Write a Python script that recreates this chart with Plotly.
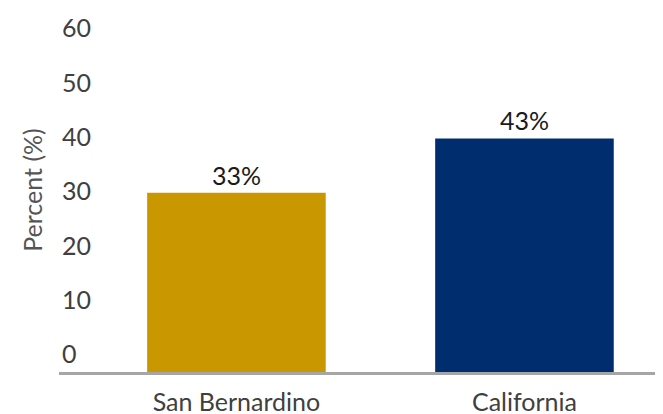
import plotly.graph_objects as go

categories = ["San Bernardino", "California"]
values = [33, 43]
labels = ["33%", "43%"]
colors = ["#C99700", "#002D6E"]
y_ticks = [0, 10, 20, 30, 40, 50, 60]

FONT = "Lato"
FS = 25

# The page body adds an 8px offset, so the figure is sized 8px smaller.
fig = go.Figure(
    go.Bar(
        x=categories,
        y=values,
        text=labels,
        textposition="outside",
        textfont=dict(family=FONT, size=FS, color="#1a1a1a"),
        marker=dict(color=colors, line=dict(width=0)),
        cliponaxis=False,
        hoverinfo="skip",
    )
)

fig.update_layout(
    width=655,
    height=406,
    margin=dict(l=51, r=0, t=0, b=42, autoexpand=False),
    paper_bgcolor="white",
    plot_bgcolor="white",
    bargap=0.38,
    showlegend=False,
    font=dict(family=FONT, size=FS, color="#404040"),
)

fig.update_xaxes(
    range=[-0.616, 1.481],
    showline=True,
    linecolor="#a6a6a6",
    linewidth=2.5,
    showgrid=False,
    ticks="",
    automargin=False,
    ticklabelstandoff=6,
    tickfont=dict(family=FONT, size=FS, color="#404040"),
)

fig.update_yaxes(
    range=[0, 67],
    tickvals=y_ticks,
    ticktext=[str(v) for v in y_ticks],
    ticklabelposition="inside top",
    showgrid=False,
    zeroline=False,
    showline=False,
    ticks="",
    automargin=False,
    tickfont=dict(family=FONT, size=FS, color="#404040"),
    title=dict(text="Percent (%)", font=dict(family=FONT, size=FS, color="#555555"), standoff=12),
)

fig.write_html("out.html")
